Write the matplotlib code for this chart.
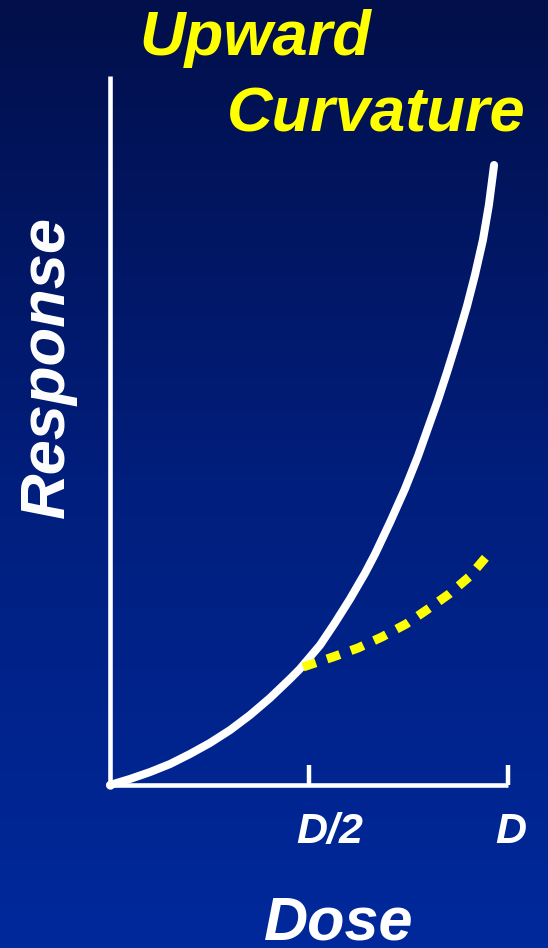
import numpy as np
import matplotlib
matplotlib.use("Agg")
import matplotlib.pyplot as plt
from matplotlib.colors import LinearSegmentedColormap

# dose as fraction of D, response in arbitrary units
dose = [0.0, 0.050, 0.101, 0.151, 0.201, 0.251, 0.302, 0.352, 0.402, 0.452, 0.477,
        0.528, 0.565, 0.603, 0.641, 0.666, 0.704, 0.741, 0.774, 0.799, 0.824,
        0.847, 0.872, 0.897, 0.917, 0.937, 0.952, 0.965]
response = [0, 6, 13, 21, 31, 42, 55, 70, 87, 106, 116,
            140, 162, 186, 212, 231, 263, 296, 329, 357, 385,
            413, 445, 479, 510, 545, 580, 620]

# linear extrapolation from D/2 (yellow dotted)
lin_dose = [0.485, 0.560, 0.623, 0.683, 0.744, 0.799, 0.852, 0.902, 0.962]
lin_response = [118, 128, 137, 148, 161, 176, 191, 208, 236]

tick_pos = [0.5, 1.0]
tick_lab = ['D/2', 'D']

plt.rcParams['font.family'] = ['Liberation Sans', 'DejaVu Sans']

W, H = 548, 948
fig = plt.figure(figsize=(W / 100, H / 100), dpi=100)

# background gradient
bg = fig.add_axes([0, 0, 1, 1], zorder=0)
cmap = LinearSegmentedColormap.from_list('bg', ['#020F4A', '#011E7C', '#00299C'])
bg.imshow(np.linspace(0, 1, 256).reshape(-1, 1), aspect='auto', cmap=cmap,
          extent=[0, 1, 0, 1], origin='upper')
bg.axis('off')

ax = fig.add_axes([110 / W, (H - 785) / H, 398 / W, 709 / H], zorder=1)
ax.set_xlim(0, 1)
ax.set_ylim(0, 709)
ax.patch.set_visible(False)
for s in ['top', 'right']:
    ax.spines[s].set_visible(False)
for s in ['left', 'bottom']:
    ax.spines[s].set_color('white')
    ax.spines[s].set_linewidth(3.3)
    ax.spines[s].set_capstyle('butt')

ax.plot(dose, response, color='white', lw=5.8, solid_capstyle='round',
        solid_joinstyle='round', clip_on=False, zorder=3)
ax.plot(lin_dose, lin_response, color='#FFFF00', lw=6.5, dashes=(1.5, 1.3),
        dash_capstyle='butt', clip_on=False, zorder=4)
ax.plot([0], [0], 'o', color='white', ms=5, clip_on=False, zorder=3)

ax.set_xticks(tick_pos)
ax.set_xticklabels([])
ax.set_yticks([])
ax.tick_params(axis='x', direction='in', length=14.4, width=3.2, color='white')

for p, lab in zip(tick_pos, tick_lab):
    ax.text(p - 13 / 398, -58, lab, color='white', fontsize=31, fontweight='bold',
            fontstyle='italic', ha='left', va='baseline', clip_on=False)

fig.text(139 / W, 1 - 55 / H, 'Upward', color='#FFFF00', fontsize=45.5,
         fontweight='bold', fontstyle='italic', ha='left', va='baseline')
fig.text(227 / W, 1 - 131 / H, 'Curvature', color='#FFFF00', fontsize=45.5,
         fontweight='bold', fontstyle='italic', ha='left', va='baseline')
fig.text(47 / W, 1 - 367 / H, 'Response', color='white', fontsize=45.5,
         fontweight='bold', fontstyle='italic', rotation=90, ha='center', va='center')
fig.text(264 / W, 1 - 940 / H, 'Dose', color='white', fontsize=44,
         fontweight='bold', fontstyle='italic', ha='left', va='baseline')

fig.savefig('out.png', dpi=100)
